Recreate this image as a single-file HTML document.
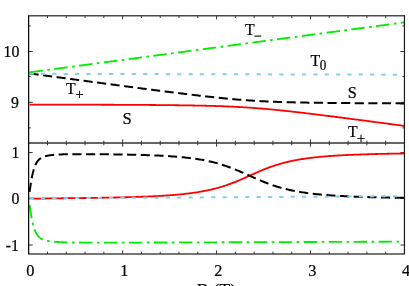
<!DOCTYPE html>
<html><head><meta charset="utf-8"><title>chart</title>
<style>
html,body{margin:0;padding:0;background:#fff;}
body{width:409px;height:286px;overflow:hidden;}
svg{display:block;}
text{font-family:"Liberation Serif",serif;fill:#000;stroke:#000;stroke-width:0.22px;}
</style></head><body>
<svg width="409" height="286" viewBox="0 0 409 286">
<rect x="0" y="0" width="409" height="286" fill="#fff"/>
<defs>
<clipPath id="ct"><rect x="28.7" y="15.7" width="375.75" height="127.3"/></clipPath>
<clipPath id="cb"><rect x="28.7" y="143.0" width="375.75" height="111.0"/></clipPath>
</defs>
<g stroke="#4a4a4a" stroke-width="1.4" fill="none">
<line x1="28.1" y1="15.7" x2="405.05" y2="15.7"/>
<line x1="28.7" y1="143.0" x2="404.45" y2="143.0" stroke="#666" stroke-width="2.0"/>
<line x1="28.1" y1="254.0" x2="405.05" y2="254.0"/>
</g>
<g stroke="#333" stroke-width="1" fill="none">
<line x1="47.49" y1="15.7" x2="47.49" y2="18.0"/>
<line x1="47.49" y1="140.7" x2="47.49" y2="145.3"/>
<line x1="47.49" y1="254.0" x2="47.49" y2="251.7"/>
<line x1="66.28" y1="15.7" x2="66.28" y2="18.0"/>
<line x1="66.28" y1="140.7" x2="66.28" y2="145.3"/>
<line x1="66.28" y1="254.0" x2="66.28" y2="251.7"/>
<line x1="85.06" y1="15.7" x2="85.06" y2="18.0"/>
<line x1="85.06" y1="140.7" x2="85.06" y2="145.3"/>
<line x1="85.06" y1="254.0" x2="85.06" y2="251.7"/>
<line x1="103.85" y1="15.7" x2="103.85" y2="18.0"/>
<line x1="103.85" y1="140.7" x2="103.85" y2="145.3"/>
<line x1="103.85" y1="254.0" x2="103.85" y2="251.7"/>
<line x1="122.64" y1="15.7" x2="122.64" y2="19.3"/>
<line x1="122.64" y1="139.4" x2="122.64" y2="146.6"/>
<line x1="122.64" y1="254.0" x2="122.64" y2="250.4"/>
<line x1="141.43" y1="15.7" x2="141.43" y2="18.0"/>
<line x1="141.43" y1="140.7" x2="141.43" y2="145.3"/>
<line x1="141.43" y1="254.0" x2="141.43" y2="251.7"/>
<line x1="160.21" y1="15.7" x2="160.21" y2="18.0"/>
<line x1="160.21" y1="140.7" x2="160.21" y2="145.3"/>
<line x1="160.21" y1="254.0" x2="160.21" y2="251.7"/>
<line x1="179.00" y1="15.7" x2="179.00" y2="18.0"/>
<line x1="179.00" y1="140.7" x2="179.00" y2="145.3"/>
<line x1="179.00" y1="254.0" x2="179.00" y2="251.7"/>
<line x1="197.79" y1="15.7" x2="197.79" y2="18.0"/>
<line x1="197.79" y1="140.7" x2="197.79" y2="145.3"/>
<line x1="197.79" y1="254.0" x2="197.79" y2="251.7"/>
<line x1="216.57" y1="15.7" x2="216.57" y2="19.3"/>
<line x1="216.57" y1="139.4" x2="216.57" y2="146.6"/>
<line x1="216.57" y1="254.0" x2="216.57" y2="250.4"/>
<line x1="235.36" y1="15.7" x2="235.36" y2="18.0"/>
<line x1="235.36" y1="140.7" x2="235.36" y2="145.3"/>
<line x1="235.36" y1="254.0" x2="235.36" y2="251.7"/>
<line x1="254.15" y1="15.7" x2="254.15" y2="18.0"/>
<line x1="254.15" y1="140.7" x2="254.15" y2="145.3"/>
<line x1="254.15" y1="254.0" x2="254.15" y2="251.7"/>
<line x1="272.94" y1="15.7" x2="272.94" y2="18.0"/>
<line x1="272.94" y1="140.7" x2="272.94" y2="145.3"/>
<line x1="272.94" y1="254.0" x2="272.94" y2="251.7"/>
<line x1="291.73" y1="15.7" x2="291.73" y2="18.0"/>
<line x1="291.73" y1="140.7" x2="291.73" y2="145.3"/>
<line x1="291.73" y1="254.0" x2="291.73" y2="251.7"/>
<line x1="310.51" y1="15.7" x2="310.51" y2="19.3"/>
<line x1="310.51" y1="139.4" x2="310.51" y2="146.6"/>
<line x1="310.51" y1="254.0" x2="310.51" y2="250.4"/>
<line x1="329.30" y1="15.7" x2="329.30" y2="18.0"/>
<line x1="329.30" y1="140.7" x2="329.30" y2="145.3"/>
<line x1="329.30" y1="254.0" x2="329.30" y2="251.7"/>
<line x1="348.09" y1="15.7" x2="348.09" y2="18.0"/>
<line x1="348.09" y1="140.7" x2="348.09" y2="145.3"/>
<line x1="348.09" y1="254.0" x2="348.09" y2="251.7"/>
<line x1="366.88" y1="15.7" x2="366.88" y2="18.0"/>
<line x1="366.88" y1="140.7" x2="366.88" y2="145.3"/>
<line x1="366.88" y1="254.0" x2="366.88" y2="251.7"/>
<line x1="385.66" y1="15.7" x2="385.66" y2="18.0"/>
<line x1="385.66" y1="140.7" x2="385.66" y2="145.3"/>
<line x1="385.66" y1="254.0" x2="385.66" y2="251.7"/>
<line x1="28.7" y1="25.90" x2="30.7" y2="25.90"/>
<line x1="404.45" y1="25.90" x2="402.45" y2="25.90"/>
<line x1="28.7" y1="51.50" x2="32.7" y2="51.50"/>
<line x1="404.45" y1="51.50" x2="400.45" y2="51.50"/>
<line x1="28.7" y1="76.60" x2="30.7" y2="76.60"/>
<line x1="404.45" y1="76.60" x2="402.45" y2="76.60"/>
<line x1="28.7" y1="102.30" x2="32.7" y2="102.30"/>
<line x1="404.45" y1="102.30" x2="400.45" y2="102.30"/>
<line x1="28.7" y1="127.90" x2="30.7" y2="127.90"/>
<line x1="404.45" y1="127.90" x2="402.45" y2="127.90"/>
<line x1="28.7" y1="152.60" x2="32.7" y2="152.60"/>
<line x1="404.45" y1="152.60" x2="400.45" y2="152.60"/>
<line x1="28.7" y1="198.50" x2="32.7" y2="198.50"/>
<line x1="404.45" y1="198.50" x2="400.45" y2="198.50"/>
<line x1="28.7" y1="245.00" x2="32.7" y2="245.00"/>
<line x1="404.45" y1="245.00" x2="400.45" y2="245.00"/>
</g>
<g fill="none" stroke-linejoin="round">
<g clip-path="url(#ct)">
<path d="M29.59,104.57 L29.86,104.57 L30.12,104.57 L30.38,104.57 L30.65,104.57 L30.91,104.57 L31.18,104.57 L31.44,104.57 L31.70,104.57 L31.97,104.57 L32.23,104.57 L32.50,104.57 L32.76,104.57 L33.02,104.57 L33.29,104.57 L33.55,104.57 L33.81,104.57 L34.08,104.57 L34.34,104.57 L34.61,104.57 L34.87,104.57 L35.13,104.57 L35.40,104.57 L35.66,104.57 L35.93,104.57 L36.19,104.57 L36.45,104.58 L36.72,104.58 L36.98,104.58 L37.25,104.58 L37.51,104.58 L37.77,104.58 L38.04,104.58 L38.30,104.58 L38.57,104.58 L38.83,104.58 L39.09,104.58 L39.36,104.58 L39.62,104.58 L39.88,104.58 L40.15,104.58 L40.41,104.58 L40.68,104.58 L40.94,104.58 L41.20,104.58 L41.47,104.58 L41.73,104.58 L42.00,104.58 L42.26,104.58 L42.52,104.59 L42.79,104.59 L43.05,104.59 L43.32,104.59 L43.58,104.59 L43.84,104.59 L44.11,104.59 L44.37,104.59 L44.63,104.59 L44.90,104.59 L45.16,104.59 L45.43,104.59 L45.69,104.59 L45.95,104.59 L46.22,104.59 L46.48,104.59 L46.75,104.59 L47.01,104.59 L47.27,104.59 L47.54,104.59 L47.80,104.59 L48.07,104.59 L48.33,104.60 L48.59,104.60 L48.86,104.60 L49.12,104.60 L49.39,104.60 L49.65,104.60 L49.91,104.60 L50.18,104.60 L50.44,104.60 L50.70,104.60 L50.97,104.60 L51.23,104.60 L51.50,104.60 L51.76,104.60 L52.02,104.60 L52.29,104.60 L52.55,104.60 L52.82,104.60 L53.08,104.60 L53.34,104.60 L53.61,104.60 L53.87,104.61 L54.14,104.61 L54.40,104.61 L54.66,104.61 L54.93,104.61 L55.19,104.61 L55.45,104.61 L55.72,104.61 L55.98,104.61 L56.25,104.61 L56.51,104.61 L56.77,104.61 L57.04,104.61 L57.30,104.61 L57.57,104.61 L57.83,104.61 L58.09,104.61 L58.36,104.61 L58.62,104.61 L58.89,104.62 L59.15,104.62 L59.41,104.62 L59.68,104.62 L59.94,104.62 L60.21,104.62 L60.47,104.62 L60.73,104.62 L61.00,104.62 L61.26,104.62 L61.52,104.62 L61.79,104.62 L62.05,104.62 L62.32,104.62 L62.58,104.62 L62.84,104.62 L63.11,104.62 L63.37,104.62 L63.64,104.63 L63.90,104.63 L64.16,104.63 L64.43,104.63 L64.69,104.63 L64.96,104.63 L65.22,104.63 L65.48,104.63 L65.75,104.63 L66.01,104.63 L66.28,104.63 L67.58,104.63 L68.89,104.64 L70.19,104.64 L71.50,104.64 L72.80,104.65 L74.11,104.65 L75.41,104.65 L76.72,104.66 L78.03,104.66 L79.33,104.66 L80.64,104.67 L81.94,104.67 L83.25,104.67 L84.55,104.68 L85.86,104.68 L87.17,104.68 L88.47,104.69 L89.78,104.69 L91.08,104.70 L92.39,104.70 L93.69,104.70 L95.00,104.71 L96.31,104.71 L97.61,104.72 L98.92,104.72 L100.22,104.72 L101.53,104.73 L102.83,104.73 L104.14,104.74 L105.45,104.74 L106.75,104.75 L108.06,104.75 L109.36,104.76 L110.67,104.76 L111.97,104.77 L113.28,104.77 L114.59,104.78 L115.89,104.79 L117.20,104.79 L118.50,104.80 L119.81,104.80 L121.11,104.81 L122.42,104.81 L123.73,104.82 L125.03,104.83 L126.34,104.83 L127.64,104.84 L128.95,104.85 L130.25,104.85 L131.56,104.86 L132.87,104.87 L134.17,104.88 L135.48,104.88 L136.78,104.89 L138.09,104.90 L139.39,104.91 L140.70,104.92 L142.01,104.92 L143.31,104.93 L144.62,104.94 L145.92,104.95 L147.23,104.96 L148.53,104.97 L149.84,104.98 L151.15,104.99 L152.45,105.00 L153.76,105.01 L155.06,105.02 L156.37,105.03 L157.67,105.04 L158.98,105.05 L160.29,105.06 L161.59,105.08 L162.90,105.09 L164.20,105.10 L165.51,105.11 L166.81,105.13 L168.12,105.14 L169.42,105.15 L170.73,105.17 L172.04,105.18 L173.34,105.20 L174.65,105.21 L175.95,105.23 L177.26,105.25 L178.56,105.26 L179.87,105.28 L181.18,105.30 L182.48,105.32 L183.79,105.33 L185.09,105.35 L186.40,105.37 L187.70,105.39 L189.01,105.42 L190.32,105.44 L191.62,105.46 L192.93,105.48 L194.23,105.51 L195.54,105.53 L196.84,105.56 L198.15,105.58 L199.46,105.61 L200.76,105.64 L202.07,105.66 L203.37,105.69 L204.68,105.72 L205.98,105.76 L207.29,105.79 L208.60,105.82 L209.90,105.86 L211.21,105.89 L212.51,105.93 L213.82,105.97 L215.12,106.01 L216.43,106.05 L217.74,106.09 L219.04,106.13 L220.35,106.18 L221.65,106.22 L222.96,106.27 L224.26,106.32 L225.57,106.37 L226.88,106.43 L228.18,106.48 L229.49,106.54 L230.79,106.59 L232.10,106.65 L233.40,106.72 L234.71,106.78 L236.02,106.85 L237.32,106.91 L238.63,106.98 L239.93,107.06 L241.24,107.13 L242.54,107.21 L243.85,107.29 L245.16,107.37 L246.46,107.45 L247.77,107.54 L249.07,107.62 L250.38,107.71 L251.68,107.80 L252.99,107.90 L254.30,108.00 L255.60,108.09 L256.91,108.20 L258.21,108.30 L259.52,108.40 L260.82,108.51 L262.13,108.62 L263.43,108.73 L264.74,108.85 L266.05,108.96 L267.35,109.08 L268.66,109.20 L269.96,109.32 L271.27,109.44 L272.57,109.57 L273.88,109.69 L275.19,109.82 L276.49,109.95 L277.80,110.08 L279.10,110.22 L280.41,110.35 L281.71,110.49 L283.02,110.62 L284.33,110.76 L285.63,110.90 L286.94,111.04 L288.24,111.19 L289.55,111.33 L290.85,111.47 L292.16,111.62 L293.47,111.77 L294.77,111.91 L296.08,112.06 L297.38,112.21 L298.69,112.36 L299.99,112.51 L301.30,112.67 L302.61,112.82 L303.91,112.97 L305.22,113.13 L306.52,113.28 L307.83,113.44 L309.13,113.60 L310.44,113.75 L311.75,113.91 L313.05,114.07 L314.36,114.23 L315.66,114.39 L316.97,114.55 L318.27,114.71 L319.58,114.87 L320.89,115.03 L322.19,115.20 L323.50,115.36 L324.80,115.52 L326.11,115.68 L327.41,115.85 L328.72,116.01 L330.03,116.18 L331.33,116.34 L332.64,116.51 L333.94,116.67 L335.25,116.84 L336.55,117.00 L337.86,117.17 L339.17,117.34 L340.47,117.51 L341.78,117.67 L343.08,117.84 L344.39,118.01 L345.69,118.18 L347.00,118.35 L348.31,118.51 L349.61,118.68 L350.92,118.85 L352.22,119.02 L353.53,119.19 L354.83,119.36 L356.14,119.53 L357.44,119.70 L358.75,119.87 L360.06,120.04 L361.36,120.21 L362.67,120.38 L363.97,120.56 L365.28,120.73 L366.58,120.90 L367.89,121.07 L369.20,121.24 L370.50,121.41 L371.81,121.58 L373.11,121.76 L374.42,121.93 L375.72,122.10 L377.03,122.27 L378.34,122.45 L379.64,122.62 L380.95,122.79 L382.25,122.97 L383.56,123.14 L384.86,123.31 L386.17,123.48 L387.48,123.66 L388.78,123.83 L390.09,124.01 L391.39,124.18 L392.70,124.35 L394.00,124.53 L395.31,124.70 L396.62,124.87 L397.92,125.05 L399.23,125.22 L400.53,125.40 L401.84,125.57 L403.14,125.75 L404.45,125.92" stroke="#ff0000" stroke-width="1.8"/>
<path d="M29.59,73.44 L29.86,73.47 L30.12,73.51 L30.38,73.55 L30.65,73.58 L30.91,73.62 L31.18,73.65 L31.44,73.69 L31.70,73.72 L31.97,73.76 L32.23,73.80 L32.50,73.83 L32.76,73.87 L33.02,73.90 L33.29,73.94 L33.55,73.97 L33.81,74.01 L34.08,74.05 L34.34,74.08 L34.61,74.12 L34.87,74.15 L35.13,74.19 L35.40,74.22 L35.66,74.26 L35.93,74.30 L36.19,74.33 L36.45,74.37 L36.72,74.40 L36.98,74.44 L37.25,74.47 L37.51,74.51 L37.77,74.55 L38.04,74.58 L38.30,74.62 L38.57,74.65 L38.83,74.69 L39.09,74.72 L39.36,74.76 L39.62,74.80 L39.88,74.83 L40.15,74.87 L40.41,74.90 L40.68,74.94 L40.94,74.97 L41.20,75.01 L41.47,75.05 L41.73,75.08 L42.00,75.12 L42.26,75.15 L42.52,75.19 L42.79,75.22 L43.05,75.26 L43.32,75.30 L43.58,75.33 L43.84,75.37 L44.11,75.40 L44.37,75.44 L44.63,75.47 L44.90,75.51 L45.16,75.55 L45.43,75.58 L45.69,75.62 L45.95,75.65 L46.22,75.69 L46.48,75.72 L46.75,75.76 L47.01,75.80 L47.27,75.83 L47.54,75.87 L47.80,75.90 L48.07,75.94 L48.33,75.97 L48.59,76.01 L48.86,76.04 L49.12,76.08 L49.39,76.12 L49.65,76.15 L49.91,76.19 L50.18,76.22 L50.44,76.26 L50.70,76.29 L50.97,76.33 L51.23,76.37 L51.50,76.40 L51.76,76.44 L52.02,76.47 L52.29,76.51 L52.55,76.54 L52.82,76.58 L53.08,76.61 L53.34,76.65 L53.61,76.69 L53.87,76.72 L54.14,76.76 L54.40,76.79 L54.66,76.83 L54.93,76.86 L55.19,76.90 L55.45,76.94 L55.72,76.97 L55.98,77.01 L56.25,77.04 L56.51,77.08 L56.77,77.11 L57.04,77.15 L57.30,77.18 L57.57,77.22 L57.83,77.26 L58.09,77.29 L58.36,77.33 L58.62,77.36 L58.89,77.40 L59.15,77.43 L59.41,77.47 L59.68,77.50 L59.94,77.54 L60.21,77.58 L60.47,77.61 L60.73,77.65 L61.00,77.68 L61.26,77.72 L61.52,77.75 L61.79,77.79 L62.05,77.83 L62.32,77.86 L62.58,77.90 L62.84,77.93 L63.11,77.97 L63.37,78.00 L63.64,78.04 L63.90,78.07 L64.16,78.11 L64.43,78.15 L64.69,78.18 L64.96,78.22 L65.22,78.25 L65.48,78.29 L65.75,78.32 L66.01,78.36 L66.28,78.39 L67.58,78.57 L68.89,78.75 L70.19,78.92 L71.50,79.10 L72.80,79.27 L74.11,79.45 L75.41,79.62 L76.72,79.80 L78.03,79.97 L79.33,80.15 L80.64,80.32 L81.94,80.50 L83.25,80.68 L84.55,80.85 L85.86,81.03 L87.17,81.20 L88.47,81.38 L89.78,81.55 L91.08,81.72 L92.39,81.90 L93.69,82.07 L95.00,82.25 L96.31,82.42 L97.61,82.60 L98.92,82.77 L100.22,82.95 L101.53,83.12 L102.83,83.29 L104.14,83.47 L105.45,83.64 L106.75,83.82 L108.06,83.99 L109.36,84.16 L110.67,84.34 L111.97,84.51 L113.28,84.68 L114.59,84.86 L115.89,85.03 L117.20,85.20 L118.50,85.38 L119.81,85.55 L121.11,85.72 L122.42,85.89 L123.73,86.07 L125.03,86.24 L126.34,86.41 L127.64,86.58 L128.95,86.76 L130.25,86.93 L131.56,87.10 L132.87,87.27 L134.17,87.44 L135.48,87.61 L136.78,87.78 L138.09,87.95 L139.39,88.13 L140.70,88.30 L142.01,88.47 L143.31,88.64 L144.62,88.81 L145.92,88.98 L147.23,89.15 L148.53,89.31 L149.84,89.48 L151.15,89.65 L152.45,89.82 L153.76,89.99 L155.06,90.16 L156.37,90.33 L157.67,90.49 L158.98,90.66 L160.29,90.83 L161.59,90.99 L162.90,91.16 L164.20,91.33 L165.51,91.49 L166.81,91.66 L168.12,91.82 L169.42,91.99 L170.73,92.15 L172.04,92.32 L173.34,92.48 L174.65,92.64 L175.95,92.81 L177.26,92.97 L178.56,93.13 L179.87,93.29 L181.18,93.45 L182.48,93.61 L183.79,93.77 L185.09,93.93 L186.40,94.09 L187.70,94.25 L189.01,94.41 L190.32,94.57 L191.62,94.72 L192.93,94.88 L194.23,95.03 L195.54,95.19 L196.84,95.34 L198.15,95.49 L199.46,95.64 L200.76,95.80 L202.07,95.95 L203.37,96.10 L204.68,96.24 L205.98,96.39 L207.29,96.54 L208.60,96.68 L209.90,96.83 L211.21,96.97 L212.51,97.11 L213.82,97.25 L215.12,97.39 L216.43,97.53 L217.74,97.67 L219.04,97.80 L220.35,97.94 L221.65,98.07 L222.96,98.20 L224.26,98.33 L225.57,98.46 L226.88,98.58 L228.18,98.71 L229.49,98.83 L230.79,98.95 L232.10,99.07 L233.40,99.18 L234.71,99.30 L236.02,99.41 L237.32,99.52 L238.63,99.63 L239.93,99.74 L241.24,99.84 L242.54,99.94 L243.85,100.04 L245.16,100.14 L246.46,100.24 L247.77,100.33 L249.07,100.42 L250.38,100.51 L251.68,100.60 L252.99,100.68 L254.30,100.76 L255.60,100.84 L256.91,100.92 L258.21,101.00 L259.52,101.07 L260.82,101.14 L262.13,101.21 L263.43,101.28 L264.74,101.34 L266.05,101.41 L267.35,101.47 L268.66,101.53 L269.96,101.58 L271.27,101.64 L272.57,101.69 L273.88,101.75 L275.19,101.80 L276.49,101.85 L277.80,101.89 L279.10,101.94 L280.41,101.98 L281.71,102.03 L283.02,102.07 L284.33,102.11 L285.63,102.15 L286.94,102.18 L288.24,102.22 L289.55,102.25 L290.85,102.29 L292.16,102.32 L293.47,102.35 L294.77,102.38 L296.08,102.41 L297.38,102.44 L298.69,102.47 L299.99,102.50 L301.30,102.53 L302.61,102.55 L303.91,102.58 L305.22,102.60 L306.52,102.62 L307.83,102.65 L309.13,102.67 L310.44,102.69 L311.75,102.71 L313.05,102.73 L314.36,102.75 L315.66,102.77 L316.97,102.79 L318.27,102.81 L319.58,102.82 L320.89,102.84 L322.19,102.86 L323.50,102.87 L324.80,102.89 L326.11,102.90 L327.41,102.92 L328.72,102.93 L330.03,102.95 L331.33,102.96 L332.64,102.97 L333.94,102.99 L335.25,103.00 L336.55,103.01 L337.86,103.03 L339.17,103.04 L340.47,103.05 L341.78,103.06 L343.08,103.07 L344.39,103.08 L345.69,103.09 L347.00,103.10 L348.31,103.11 L349.61,103.12 L350.92,103.13 L352.22,103.14 L353.53,103.15 L354.83,103.16 L356.14,103.17 L357.44,103.18 L358.75,103.18 L360.06,103.19 L361.36,103.20 L362.67,103.21 L363.97,103.22 L365.28,103.22 L366.58,103.23 L367.89,103.24 L369.20,103.24 L370.50,103.25 L371.81,103.26 L373.11,103.27 L374.42,103.27 L375.72,103.28 L377.03,103.28 L378.34,103.29 L379.64,103.30 L380.95,103.30 L382.25,103.31 L383.56,103.31 L384.86,103.32 L386.17,103.32 L387.48,103.33 L388.78,103.33 L390.09,103.34 L391.39,103.35 L392.70,103.35 L394.00,103.35 L395.31,103.36 L396.62,103.36 L397.92,103.37 L399.23,103.37 L400.53,103.38 L401.84,103.38 L403.14,103.39 L404.45,103.39" stroke="#000" stroke-width="2" stroke-dasharray="9.14 4.48"/>
<path d="M29.59,73.80 L29.86,73.80 L30.12,73.80 L30.38,73.80 L30.65,73.80 L30.91,73.80 L31.18,73.81 L31.44,73.81 L31.70,73.81 L31.97,73.81 L32.23,73.81 L32.50,73.81 L32.76,73.81 L33.02,73.81 L33.29,73.81 L33.55,73.81 L33.81,73.81 L34.08,73.81 L34.34,73.81 L34.61,73.81 L34.87,73.81 L35.13,73.81 L35.40,73.82 L35.66,73.82 L35.93,73.82 L36.19,73.82 L36.45,73.82 L36.72,73.82 L36.98,73.82 L37.25,73.82 L37.51,73.82 L37.77,73.82 L38.04,73.82 L38.30,73.82 L38.57,73.82 L38.83,73.82 L39.09,73.82 L39.36,73.82 L39.62,73.83 L39.88,73.83 L40.15,73.83 L40.41,73.83 L40.68,73.83 L40.94,73.83 L41.20,73.83 L41.47,73.83 L41.73,73.83 L42.00,73.83 L42.26,73.83 L42.52,73.83 L42.79,73.83 L43.05,73.83 L43.32,73.83 L43.58,73.83 L43.84,73.84 L44.11,73.84 L44.37,73.84 L44.63,73.84 L44.90,73.84 L45.16,73.84 L45.43,73.84 L45.69,73.84 L45.95,73.84 L46.22,73.84 L46.48,73.84 L46.75,73.84 L47.01,73.84 L47.27,73.84 L47.54,73.84 L47.80,73.85 L48.07,73.85 L48.33,73.85 L48.59,73.85 L48.86,73.85 L49.12,73.85 L49.39,73.85 L49.65,73.85 L49.91,73.85 L50.18,73.85 L50.44,73.85 L50.70,73.85 L50.97,73.85 L51.23,73.85 L51.50,73.85 L51.76,73.85 L52.02,73.86 L52.29,73.86 L52.55,73.86 L52.82,73.86 L53.08,73.86 L53.34,73.86 L53.61,73.86 L53.87,73.86 L54.14,73.86 L54.40,73.86 L54.66,73.86 L54.93,73.86 L55.19,73.86 L55.45,73.86 L55.72,73.86 L55.98,73.86 L56.25,73.87 L56.51,73.87 L56.77,73.87 L57.04,73.87 L57.30,73.87 L57.57,73.87 L57.83,73.87 L58.09,73.87 L58.36,73.87 L58.62,73.87 L58.89,73.87 L59.15,73.87 L59.41,73.87 L59.68,73.87 L59.94,73.87 L60.21,73.87 L60.47,73.88 L60.73,73.88 L61.00,73.88 L61.26,73.88 L61.52,73.88 L61.79,73.88 L62.05,73.88 L62.32,73.88 L62.58,73.88 L62.84,73.88 L63.11,73.88 L63.37,73.88 L63.64,73.88 L63.90,73.88 L64.16,73.88 L64.43,73.88 L64.69,73.89 L64.96,73.89 L65.22,73.89 L65.48,73.89 L65.75,73.89 L66.01,73.89 L66.28,73.89 L67.58,73.89 L68.89,73.90 L70.19,73.90 L71.50,73.90 L72.80,73.90 L74.11,73.91 L75.41,73.91 L76.72,73.91 L78.03,73.92 L79.33,73.92 L80.64,73.92 L81.94,73.93 L83.25,73.93 L84.55,73.93 L85.86,73.94 L87.17,73.94 L88.47,73.94 L89.78,73.95 L91.08,73.95 L92.39,73.95 L93.69,73.95 L95.00,73.96 L96.31,73.96 L97.61,73.96 L98.92,73.97 L100.22,73.97 L101.53,73.97 L102.83,73.98 L104.14,73.98 L105.45,73.98 L106.75,73.99 L108.06,73.99 L109.36,73.99 L110.67,74.00 L111.97,74.00 L113.28,74.00 L114.59,74.01 L115.89,74.01 L117.20,74.01 L118.50,74.01 L119.81,74.02 L121.11,74.02 L122.42,74.02 L123.73,74.03 L125.03,74.03 L126.34,74.03 L127.64,74.04 L128.95,74.04 L130.25,74.04 L131.56,74.05 L132.87,74.05 L134.17,74.05 L135.48,74.06 L136.78,74.06 L138.09,74.06 L139.39,74.06 L140.70,74.07 L142.01,74.07 L143.31,74.07 L144.62,74.08 L145.92,74.08 L147.23,74.08 L148.53,74.09 L149.84,74.09 L151.15,74.09 L152.45,74.10 L153.76,74.10 L155.06,74.10 L156.37,74.11 L157.67,74.11 L158.98,74.11 L160.29,74.11 L161.59,74.12 L162.90,74.12 L164.20,74.12 L165.51,74.13 L166.81,74.13 L168.12,74.13 L169.42,74.14 L170.73,74.14 L172.04,74.14 L173.34,74.15 L174.65,74.15 L175.95,74.15 L177.26,74.16 L178.56,74.16 L179.87,74.16 L181.18,74.16 L182.48,74.17 L183.79,74.17 L185.09,74.17 L186.40,74.18 L187.70,74.18 L189.01,74.18 L190.32,74.19 L191.62,74.19 L192.93,74.19 L194.23,74.20 L195.54,74.20 L196.84,74.20 L198.15,74.21 L199.46,74.21 L200.76,74.21 L202.07,74.21 L203.37,74.22 L204.68,74.22 L205.98,74.22 L207.29,74.23 L208.60,74.23 L209.90,74.23 L211.21,74.24 L212.51,74.24 L213.82,74.24 L215.12,74.25 L216.43,74.25 L217.74,74.25 L219.04,74.26 L220.35,74.26 L221.65,74.26 L222.96,74.26 L224.26,74.27 L225.57,74.27 L226.88,74.27 L228.18,74.28 L229.49,74.28 L230.79,74.28 L232.10,74.29 L233.40,74.29 L234.71,74.29 L236.02,74.30 L237.32,74.30 L238.63,74.30 L239.93,74.31 L241.24,74.31 L242.54,74.31 L243.85,74.31 L245.16,74.32 L246.46,74.32 L247.77,74.32 L249.07,74.33 L250.38,74.33 L251.68,74.33 L252.99,74.34 L254.30,74.34 L255.60,74.34 L256.91,74.35 L258.21,74.35 L259.52,74.35 L260.82,74.36 L262.13,74.36 L263.43,74.36 L264.74,74.36 L266.05,74.37 L267.35,74.37 L268.66,74.37 L269.96,74.38 L271.27,74.38 L272.57,74.38 L273.88,74.39 L275.19,74.39 L276.49,74.39 L277.80,74.40 L279.10,74.40 L280.41,74.40 L281.71,74.41 L283.02,74.41 L284.33,74.41 L285.63,74.41 L286.94,74.42 L288.24,74.42 L289.55,74.42 L290.85,74.43 L292.16,74.43 L293.47,74.43 L294.77,74.44 L296.08,74.44 L297.38,74.44 L298.69,74.45 L299.99,74.45 L301.30,74.45 L302.61,74.46 L303.91,74.46 L305.22,74.46 L306.52,74.46 L307.83,74.47 L309.13,74.47 L310.44,74.47 L311.75,74.48 L313.05,74.48 L314.36,74.48 L315.66,74.49 L316.97,74.49 L318.27,74.49 L319.58,74.50 L320.89,74.50 L322.19,74.50 L323.50,74.51 L324.80,74.51 L326.11,74.51 L327.41,74.51 L328.72,74.52 L330.03,74.52 L331.33,74.52 L332.64,74.53 L333.94,74.53 L335.25,74.53 L336.55,74.54 L337.86,74.54 L339.17,74.54 L340.47,74.55 L341.78,74.55 L343.08,74.55 L344.39,74.56 L345.69,74.56 L347.00,74.56 L348.31,74.56 L349.61,74.57 L350.92,74.57 L352.22,74.57 L353.53,74.58 L354.83,74.58 L356.14,74.58 L357.44,74.59 L358.75,74.59 L360.06,74.59 L361.36,74.60 L362.67,74.60 L363.97,74.60 L365.28,74.61 L366.58,74.61 L367.89,74.61 L369.20,74.61 L370.50,74.62 L371.81,74.62 L373.11,74.62 L374.42,74.63 L375.72,74.63 L377.03,74.63 L378.34,74.64 L379.64,74.64 L380.95,74.64 L382.25,74.65 L383.56,74.65 L384.86,74.65 L386.17,74.66 L387.48,74.66 L388.78,74.66 L390.09,74.66 L391.39,74.67 L392.70,74.67 L394.00,74.67 L395.31,74.68 L396.62,74.68 L397.92,74.68 L399.23,74.69 L400.53,74.69 L401.84,74.69 L403.14,74.70 L404.45,74.70" stroke="#87ceeb" stroke-width="2.0" stroke-dasharray="4.2 7.15"/>
<path d="M29.59,72.32 L29.86,72.29 L30.12,72.25 L30.38,72.22 L30.65,72.18 L30.91,72.15 L31.18,72.11 L31.44,72.07 L31.70,72.04 L31.97,72.00 L32.23,71.97 L32.50,71.93 L32.76,71.90 L33.02,71.86 L33.29,71.83 L33.55,71.79 L33.81,71.76 L34.08,71.72 L34.34,71.69 L34.61,71.65 L34.87,71.62 L35.13,71.58 L35.40,71.55 L35.66,71.51 L35.93,71.48 L36.19,71.44 L36.45,71.41 L36.72,71.37 L36.98,71.34 L37.25,71.30 L37.51,71.27 L37.77,71.23 L38.04,71.20 L38.30,71.16 L38.57,71.12 L38.83,71.09 L39.09,71.05 L39.36,71.02 L39.62,70.98 L39.88,70.95 L40.15,70.91 L40.41,70.88 L40.68,70.84 L40.94,70.81 L41.20,70.77 L41.47,70.74 L41.73,70.70 L42.00,70.67 L42.26,70.63 L42.52,70.60 L42.79,70.56 L43.05,70.53 L43.32,70.49 L43.58,70.46 L43.84,70.42 L44.11,70.39 L44.37,70.35 L44.63,70.32 L44.90,70.28 L45.16,70.25 L45.43,70.21 L45.69,70.18 L45.95,70.14 L46.22,70.10 L46.48,70.07 L46.75,70.03 L47.01,70.00 L47.27,69.96 L47.54,69.93 L47.80,69.89 L48.07,69.86 L48.33,69.82 L48.59,69.79 L48.86,69.75 L49.12,69.72 L49.39,69.68 L49.65,69.65 L49.91,69.61 L50.18,69.58 L50.44,69.54 L50.70,69.51 L50.97,69.47 L51.23,69.44 L51.50,69.40 L51.76,69.37 L52.02,69.33 L52.29,69.30 L52.55,69.26 L52.82,69.23 L53.08,69.19 L53.34,69.15 L53.61,69.12 L53.87,69.08 L54.14,69.05 L54.40,69.01 L54.66,68.98 L54.93,68.94 L55.19,68.91 L55.45,68.87 L55.72,68.84 L55.98,68.80 L56.25,68.77 L56.51,68.73 L56.77,68.70 L57.04,68.66 L57.30,68.63 L57.57,68.59 L57.83,68.56 L58.09,68.52 L58.36,68.49 L58.62,68.45 L58.89,68.42 L59.15,68.38 L59.41,68.35 L59.68,68.31 L59.94,68.28 L60.21,68.24 L60.47,68.21 L60.73,68.17 L61.00,68.13 L61.26,68.10 L61.52,68.06 L61.79,68.03 L62.05,67.99 L62.32,67.96 L62.58,67.92 L62.84,67.89 L63.11,67.85 L63.37,67.82 L63.64,67.78 L63.90,67.75 L64.16,67.71 L64.43,67.68 L64.69,67.64 L64.96,67.61 L65.22,67.57 L65.48,67.54 L65.75,67.50 L66.01,67.47 L66.28,67.43 L67.58,67.26 L68.89,67.08 L70.19,66.91 L71.50,66.74 L72.80,66.56 L74.11,66.39 L75.41,66.21 L76.72,66.04 L78.03,65.86 L79.33,65.69 L80.64,65.52 L81.94,65.34 L83.25,65.17 L84.55,64.99 L85.86,64.82 L87.17,64.65 L88.47,64.47 L89.78,64.30 L91.08,64.12 L92.39,63.95 L93.69,63.78 L95.00,63.60 L96.31,63.43 L97.61,63.25 L98.92,63.08 L100.22,62.91 L101.53,62.73 L102.83,62.56 L104.14,62.38 L105.45,62.21 L106.75,62.04 L108.06,61.86 L109.36,61.69 L110.67,61.51 L111.97,61.34 L113.28,61.17 L114.59,60.99 L115.89,60.82 L117.20,60.64 L118.50,60.47 L119.81,60.30 L121.11,60.12 L122.42,59.95 L123.73,59.77 L125.03,59.60 L126.34,59.42 L127.64,59.25 L128.95,59.08 L130.25,58.90 L131.56,58.73 L132.87,58.55 L134.17,58.38 L135.48,58.21 L136.78,58.03 L138.09,57.86 L139.39,57.68 L140.70,57.51 L142.01,57.34 L143.31,57.16 L144.62,56.99 L145.92,56.81 L147.23,56.64 L148.53,56.47 L149.84,56.29 L151.15,56.12 L152.45,55.94 L153.76,55.77 L155.06,55.60 L156.37,55.42 L157.67,55.25 L158.98,55.07 L160.29,54.90 L161.59,54.73 L162.90,54.55 L164.20,54.38 L165.51,54.20 L166.81,54.03 L168.12,53.86 L169.42,53.68 L170.73,53.51 L172.04,53.33 L173.34,53.16 L174.65,52.99 L175.95,52.81 L177.26,52.64 L178.56,52.46 L179.87,52.29 L181.18,52.11 L182.48,51.94 L183.79,51.77 L185.09,51.59 L186.40,51.42 L187.70,51.24 L189.01,51.07 L190.32,50.90 L191.62,50.72 L192.93,50.55 L194.23,50.37 L195.54,50.20 L196.84,50.03 L198.15,49.85 L199.46,49.68 L200.76,49.50 L202.07,49.33 L203.37,49.16 L204.68,48.98 L205.98,48.81 L207.29,48.63 L208.60,48.46 L209.90,48.29 L211.21,48.11 L212.51,47.94 L213.82,47.76 L215.12,47.59 L216.43,47.42 L217.74,47.24 L219.04,47.07 L220.35,46.89 L221.65,46.72 L222.96,46.55 L224.26,46.37 L225.57,46.20 L226.88,46.02 L228.18,45.85 L229.49,45.68 L230.79,45.50 L232.10,45.33 L233.40,45.15 L234.71,44.98 L236.02,44.80 L237.32,44.63 L238.63,44.46 L239.93,44.28 L241.24,44.11 L242.54,43.93 L243.85,43.76 L245.16,43.59 L246.46,43.41 L247.77,43.24 L249.07,43.06 L250.38,42.89 L251.68,42.72 L252.99,42.54 L254.30,42.37 L255.60,42.19 L256.91,42.02 L258.21,41.85 L259.52,41.67 L260.82,41.50 L262.13,41.32 L263.43,41.15 L264.74,40.98 L266.05,40.80 L267.35,40.63 L268.66,40.45 L269.96,40.28 L271.27,40.11 L272.57,39.93 L273.88,39.76 L275.19,39.58 L276.49,39.41 L277.80,39.24 L279.10,39.06 L280.41,38.89 L281.71,38.71 L283.02,38.54 L284.33,38.37 L285.63,38.19 L286.94,38.02 L288.24,37.84 L289.55,37.67 L290.85,37.49 L292.16,37.32 L293.47,37.15 L294.77,36.97 L296.08,36.80 L297.38,36.62 L298.69,36.45 L299.99,36.28 L301.30,36.10 L302.61,35.93 L303.91,35.75 L305.22,35.58 L306.52,35.41 L307.83,35.23 L309.13,35.06 L310.44,34.88 L311.75,34.71 L313.05,34.54 L314.36,34.36 L315.66,34.19 L316.97,34.01 L318.27,33.84 L319.58,33.67 L320.89,33.49 L322.19,33.32 L323.50,33.14 L324.80,32.97 L326.11,32.80 L327.41,32.62 L328.72,32.45 L330.03,32.27 L331.33,32.10 L332.64,31.93 L333.94,31.75 L335.25,31.58 L336.55,31.40 L337.86,31.23 L339.17,31.05 L340.47,30.88 L341.78,30.71 L343.08,30.53 L344.39,30.36 L345.69,30.18 L347.00,30.01 L348.31,29.84 L349.61,29.66 L350.92,29.49 L352.22,29.31 L353.53,29.14 L354.83,28.97 L356.14,28.79 L357.44,28.62 L358.75,28.44 L360.06,28.27 L361.36,28.10 L362.67,27.92 L363.97,27.75 L365.28,27.57 L366.58,27.40 L367.89,27.23 L369.20,27.05 L370.50,26.88 L371.81,26.70 L373.11,26.53 L374.42,26.36 L375.72,26.18 L377.03,26.01 L378.34,25.83 L379.64,25.66 L380.95,25.49 L382.25,25.31 L383.56,25.14 L384.86,24.96 L386.17,24.79 L387.48,24.62 L388.78,24.44 L390.09,24.27 L391.39,24.09 L392.70,23.92 L394.00,23.74 L395.31,23.57 L396.62,23.40 L397.92,23.22 L399.23,23.05 L400.53,22.87 L401.84,22.70 L403.14,22.53 L404.45,22.35" stroke="#00ee00" stroke-width="1.85" stroke-dasharray="13.45 4.42 2.68 4.42"/>
</g>
<g clip-path="url(#cb)">
<path d="M29.59,198.40 L29.86,198.40 L30.12,198.40 L30.38,198.40 L30.65,198.41 L30.91,198.41 L31.18,198.41 L31.44,198.42 L31.70,198.42 L31.97,198.43 L32.23,198.44 L32.50,198.45 L32.76,198.46 L33.02,198.47 L33.29,198.48 L33.55,198.49 L33.81,198.50 L34.08,198.51 L34.34,198.52 L34.61,198.53 L34.87,198.53 L35.13,198.54 L35.40,198.55 L35.66,198.55 L35.93,198.56 L36.19,198.56 L36.45,198.57 L36.72,198.57 L36.98,198.57 L37.25,198.57 L37.51,198.58 L37.77,198.58 L38.04,198.58 L38.30,198.58 L38.57,198.57 L38.83,198.57 L39.09,198.57 L39.36,198.57 L39.62,198.57 L39.88,198.56 L40.15,198.56 L40.41,198.56 L40.68,198.55 L40.94,198.55 L41.20,198.55 L41.47,198.54 L41.73,198.54 L42.00,198.54 L42.26,198.53 L42.52,198.53 L42.79,198.52 L43.05,198.52 L43.32,198.52 L43.58,198.51 L43.84,198.51 L44.11,198.50 L44.37,198.50 L44.63,198.50 L44.90,198.49 L45.16,198.49 L45.43,198.48 L45.69,198.48 L45.95,198.48 L46.22,198.47 L46.48,198.47 L46.75,198.46 L47.01,198.46 L47.27,198.46 L47.54,198.45 L47.80,198.45 L48.07,198.44 L48.33,198.44 L48.59,198.44 L48.86,198.43 L49.12,198.43 L49.39,198.42 L49.65,198.42 L49.91,198.42 L50.18,198.41 L50.44,198.41 L50.70,198.41 L50.97,198.40 L51.23,198.40 L51.50,198.40 L51.76,198.39 L52.02,198.39 L52.29,198.38 L52.55,198.38 L52.82,198.38 L53.08,198.37 L53.34,198.37 L53.61,198.37 L53.87,198.36 L54.14,198.36 L54.40,198.36 L54.66,198.35 L54.93,198.35 L55.19,198.35 L55.45,198.34 L55.72,198.34 L55.98,198.34 L56.25,198.33 L56.51,198.33 L56.77,198.33 L57.04,198.33 L57.30,198.32 L57.57,198.32 L57.83,198.32 L58.09,198.31 L58.36,198.31 L58.62,198.31 L58.89,198.30 L59.15,198.30 L59.41,198.30 L59.68,198.29 L59.94,198.29 L60.21,198.29 L60.47,198.29 L60.73,198.28 L61.00,198.28 L61.26,198.28 L61.52,198.27 L61.79,198.27 L62.05,198.27 L62.32,198.26 L62.58,198.26 L62.84,198.26 L63.11,198.26 L63.37,198.25 L63.64,198.25 L63.90,198.25 L64.16,198.24 L64.43,198.24 L64.69,198.24 L64.96,198.23 L65.22,198.23 L65.48,198.23 L65.75,198.23 L66.01,198.22 L66.28,198.22 L67.58,198.20 L68.89,198.19 L70.19,198.18 L71.50,198.16 L72.80,198.15 L74.11,198.13 L75.41,198.12 L76.72,198.10 L78.03,198.08 L79.33,198.07 L80.64,198.05 L81.94,198.04 L83.25,198.02 L84.55,198.00 L85.86,197.99 L87.17,197.97 L88.47,197.95 L89.78,197.93 L91.08,197.91 L92.39,197.90 L93.69,197.88 L95.00,197.86 L96.31,197.84 L97.61,197.82 L98.92,197.80 L100.22,197.78 L101.53,197.75 L102.83,197.73 L104.14,197.71 L105.45,197.69 L106.75,197.66 L108.06,197.64 L109.36,197.61 L110.67,197.59 L111.97,197.56 L113.28,197.54 L114.59,197.51 L115.89,197.48 L117.20,197.45 L118.50,197.42 L119.81,197.39 L121.11,197.36 L122.42,197.33 L123.73,197.30 L125.03,197.26 L126.34,197.23 L127.64,197.19 L128.95,197.16 L130.25,197.12 L131.56,197.08 L132.87,197.04 L134.17,197.00 L135.48,196.96 L136.78,196.92 L138.09,196.88 L139.39,196.83 L140.70,196.78 L142.01,196.74 L143.31,196.69 L144.62,196.64 L145.92,196.58 L147.23,196.53 L148.53,196.47 L149.84,196.42 L151.15,196.36 L152.45,196.30 L153.76,196.23 L155.06,196.17 L156.37,196.10 L157.67,196.03 L158.98,195.96 L160.29,195.89 L161.59,195.81 L162.90,195.73 L164.20,195.65 L165.51,195.57 L166.81,195.48 L168.12,195.39 L169.42,195.30 L170.73,195.20 L172.04,195.10 L173.34,195.00 L174.65,194.89 L175.95,194.78 L177.26,194.66 L178.56,194.54 L179.87,194.42 L181.18,194.29 L182.48,194.16 L183.79,194.02 L185.09,193.88 L186.40,193.73 L187.70,193.58 L189.01,193.42 L190.32,193.25 L191.62,193.08 L192.93,192.90 L194.23,192.72 L195.54,192.53 L196.84,192.33 L198.15,192.12 L199.46,191.90 L200.76,191.68 L202.07,191.45 L203.37,191.21 L204.68,190.96 L205.98,190.70 L207.29,190.43 L208.60,190.15 L209.90,189.86 L211.21,189.56 L212.51,189.25 L213.82,188.93 L215.12,188.60 L216.43,188.25 L217.74,187.89 L219.04,187.52 L220.35,187.14 L221.65,186.75 L222.96,186.34 L224.26,185.92 L225.57,185.49 L226.88,185.05 L228.18,184.59 L229.49,184.12 L230.79,183.64 L232.10,183.15 L233.40,182.64 L234.71,182.13 L236.02,181.60 L237.32,181.07 L238.63,180.52 L239.93,179.97 L241.24,179.41 L242.54,178.85 L243.85,178.27 L245.16,177.70 L246.46,177.11 L247.77,176.53 L249.07,175.95 L250.38,175.36 L251.68,174.77 L252.99,174.19 L254.30,173.61 L255.60,173.03 L256.91,172.46 L258.21,171.89 L259.52,171.33 L260.82,170.78 L262.13,170.24 L263.43,169.70 L264.74,169.18 L266.05,168.66 L267.35,168.16 L268.66,167.66 L269.96,167.18 L271.27,166.71 L272.57,166.26 L273.88,165.81 L275.19,165.38 L276.49,164.96 L277.80,164.56 L279.10,164.16 L280.41,163.78 L281.71,163.41 L283.02,163.06 L284.33,162.71 L285.63,162.38 L286.94,162.06 L288.24,161.75 L289.55,161.45 L290.85,161.16 L292.16,160.88 L293.47,160.61 L294.77,160.35 L296.08,160.10 L297.38,159.86 L298.69,159.63 L299.99,159.41 L301.30,159.19 L302.61,158.99 L303.91,158.79 L305.22,158.60 L306.52,158.41 L307.83,158.23 L309.13,158.06 L310.44,157.90 L311.75,157.74 L313.05,157.58 L314.36,157.44 L315.66,157.29 L316.97,157.16 L318.27,157.02 L319.58,156.90 L320.89,156.77 L322.19,156.65 L323.50,156.54 L324.80,156.43 L326.11,156.32 L327.41,156.22 L328.72,156.12 L330.03,156.02 L331.33,155.93 L332.64,155.84 L333.94,155.75 L335.25,155.67 L336.55,155.59 L337.86,155.51 L339.17,155.43 L340.47,155.36 L341.78,155.29 L343.08,155.22 L344.39,155.15 L345.69,155.09 L347.00,155.02 L348.31,154.96 L349.61,154.90 L350.92,154.85 L352.22,154.79 L353.53,154.74 L354.83,154.68 L356.14,154.63 L357.44,154.58 L358.75,154.54 L360.06,154.49 L361.36,154.44 L362.67,154.40 L363.97,154.36 L365.28,154.32 L366.58,154.28 L367.89,154.24 L369.20,154.20 L370.50,154.16 L371.81,154.12 L373.11,154.09 L374.42,154.05 L375.72,154.02 L377.03,153.99 L378.34,153.96 L379.64,153.93 L380.95,153.90 L382.25,153.87 L383.56,153.84 L384.86,153.81 L386.17,153.78 L387.48,153.76 L388.78,153.73 L390.09,153.71 L391.39,153.68 L392.70,153.66 L394.00,153.63 L395.31,153.61 L396.62,153.59 L397.92,153.57 L399.23,153.55 L400.53,153.52 L401.84,153.50 L403.14,153.48 L404.45,153.46" stroke="#ff0000" stroke-width="1.8"/>
<path d="M29.59,191.81 L29.86,189.92 L30.12,188.08 L30.38,186.29 L30.65,184.56 L30.91,182.90 L31.18,181.30 L31.44,179.78 L31.70,178.34 L31.97,176.96 L32.23,175.66 L32.50,174.44 L32.76,173.28 L33.02,172.19 L33.29,171.17 L33.55,170.21 L33.81,169.32 L34.08,168.47 L34.34,167.69 L34.61,166.95 L34.87,166.26 L35.13,165.61 L35.40,165.00 L35.66,164.44 L35.93,163.90 L36.19,163.41 L36.45,162.94 L36.72,162.50 L36.98,162.09 L37.25,161.70 L37.51,161.34 L37.77,161.00 L38.04,160.68 L38.30,160.38 L38.57,160.09 L38.83,159.82 L39.09,159.57 L39.36,159.33 L39.62,159.11 L39.88,158.89 L40.15,158.69 L40.41,158.50 L40.68,158.32 L40.94,158.14 L41.20,157.98 L41.47,157.83 L41.73,157.68 L42.00,157.54 L42.26,157.41 L42.52,157.28 L42.79,157.16 L43.05,157.04 L43.32,156.93 L43.58,156.83 L43.84,156.73 L44.11,156.63 L44.37,156.54 L44.63,156.46 L44.90,156.37 L45.16,156.29 L45.43,156.22 L45.69,156.14 L45.95,156.07 L46.22,156.01 L46.48,155.94 L46.75,155.88 L47.01,155.82 L47.27,155.76 L47.54,155.71 L47.80,155.66 L48.07,155.60 L48.33,155.56 L48.59,155.51 L48.86,155.46 L49.12,155.42 L49.39,155.38 L49.65,155.34 L49.91,155.30 L50.18,155.26 L50.44,155.22 L50.70,155.19 L50.97,155.15 L51.23,155.12 L51.50,155.09 L51.76,155.06 L52.02,155.03 L52.29,155.00 L52.55,154.97 L52.82,154.95 L53.08,154.92 L53.34,154.90 L53.61,154.87 L53.87,154.85 L54.14,154.83 L54.40,154.80 L54.66,154.78 L54.93,154.76 L55.19,154.74 L55.45,154.72 L55.72,154.70 L55.98,154.69 L56.25,154.67 L56.51,154.65 L56.77,154.63 L57.04,154.62 L57.30,154.60 L57.57,154.59 L57.83,154.57 L58.09,154.56 L58.36,154.54 L58.62,154.53 L58.89,154.52 L59.15,154.51 L59.41,154.49 L59.68,154.48 L59.94,154.47 L60.21,154.46 L60.47,154.45 L60.73,154.44 L61.00,154.43 L61.26,154.42 L61.52,154.41 L61.79,154.40 L62.05,154.39 L62.32,154.38 L62.58,154.37 L62.84,154.36 L63.11,154.35 L63.37,154.34 L63.64,154.34 L63.90,154.33 L64.16,154.32 L64.43,154.31 L64.69,154.31 L64.96,154.30 L65.22,154.29 L65.48,154.29 L65.75,154.28 L66.01,154.28 L66.28,154.27 L67.58,154.24 L68.89,154.22 L70.19,154.20 L71.50,154.18 L72.80,154.17 L74.11,154.16 L75.41,154.15 L76.72,154.14 L78.03,154.13 L79.33,154.13 L80.64,154.13 L81.94,154.12 L83.25,154.12 L84.55,154.12 L85.86,154.13 L87.17,154.13 L88.47,154.13 L89.78,154.14 L91.08,154.14 L92.39,154.15 L93.69,154.16 L95.00,154.16 L96.31,154.17 L97.61,154.18 L98.92,154.19 L100.22,154.21 L101.53,154.22 L102.83,154.23 L104.14,154.24 L105.45,154.26 L106.75,154.27 L108.06,154.29 L109.36,154.30 L110.67,154.32 L111.97,154.34 L113.28,154.36 L114.59,154.38 L115.89,154.40 L117.20,154.42 L118.50,154.44 L119.81,154.46 L121.11,154.48 L122.42,154.51 L123.73,154.53 L125.03,154.55 L126.34,154.58 L127.64,154.61 L128.95,154.64 L130.25,154.66 L131.56,154.69 L132.87,154.72 L134.17,154.76 L135.48,154.79 L136.78,154.82 L138.09,154.86 L139.39,154.89 L140.70,154.93 L142.01,154.97 L143.31,155.01 L144.62,155.05 L145.92,155.10 L147.23,155.14 L148.53,155.19 L149.84,155.23 L151.15,155.28 L152.45,155.33 L153.76,155.39 L155.06,155.44 L156.37,155.50 L157.67,155.56 L158.98,155.62 L160.29,155.68 L161.59,155.75 L162.90,155.82 L164.20,155.89 L165.51,155.96 L166.81,156.04 L168.12,156.12 L169.42,156.20 L170.73,156.29 L172.04,156.38 L173.34,156.47 L174.65,156.57 L175.95,156.67 L177.26,156.77 L178.56,156.88 L179.87,156.99 L181.18,157.11 L182.48,157.24 L183.79,157.36 L185.09,157.50 L186.40,157.64 L187.70,157.78 L189.01,157.93 L190.32,158.09 L191.62,158.26 L192.93,158.43 L194.23,158.61 L195.54,158.80 L196.84,158.99 L198.15,159.19 L199.46,159.40 L200.76,159.62 L202.07,159.85 L203.37,160.09 L204.68,160.34 L205.98,160.60 L207.29,160.87 L208.60,161.15 L209.90,161.44 L211.21,161.74 L212.51,162.06 L213.82,162.38 L215.12,162.72 L216.43,163.07 L217.74,163.43 L219.04,163.81 L220.35,164.20 L221.65,164.60 L222.96,165.01 L224.26,165.44 L225.57,165.88 L226.88,166.33 L228.18,166.80 L229.49,167.27 L230.79,167.76 L232.10,168.26 L233.40,168.77 L234.71,169.29 L236.02,169.83 L237.32,170.37 L238.63,170.92 L239.93,171.47 L241.24,172.04 L242.54,172.61 L243.85,173.18 L245.16,173.76 L246.46,174.34 L247.77,174.93 L249.07,175.52 L250.38,176.10 L251.68,176.69 L252.99,177.27 L254.30,177.85 L255.60,178.43 L256.91,179.00 L258.21,179.56 L259.52,180.12 L260.82,180.67 L262.13,181.21 L263.43,181.75 L264.74,182.27 L266.05,182.78 L267.35,183.28 L268.66,183.77 L269.96,184.25 L271.27,184.71 L272.57,185.17 L273.88,185.61 L275.19,186.04 L276.49,186.45 L277.80,186.86 L279.10,187.25 L280.41,187.63 L281.71,187.99 L283.02,188.35 L284.33,188.69 L285.63,189.02 L286.94,189.34 L288.24,189.64 L289.55,189.94 L290.85,190.23 L292.16,190.50 L293.47,190.77 L294.77,191.02 L296.08,191.27 L297.38,191.51 L298.69,191.74 L299.99,191.96 L301.30,192.17 L302.61,192.37 L303.91,192.57 L305.22,192.76 L306.52,192.94 L307.83,193.12 L309.13,193.29 L310.44,193.45 L311.75,193.61 L313.05,193.76 L314.36,193.91 L315.66,194.05 L316.97,194.19 L318.27,194.32 L319.58,194.45 L320.89,194.57 L322.19,194.69 L323.50,194.80 L324.80,194.91 L326.11,195.02 L327.41,195.12 L328.72,195.22 L330.03,195.32 L331.33,195.41 L332.64,195.50 L333.94,195.59 L335.25,195.67 L336.55,195.75 L337.86,195.83 L339.17,195.91 L340.47,195.98 L341.78,196.05 L343.08,196.12 L344.39,196.19 L345.69,196.25 L347.00,196.32 L348.31,196.38 L349.61,196.44 L350.92,196.49 L352.22,196.55 L353.53,196.60 L354.83,196.66 L356.14,196.71 L357.44,196.76 L358.75,196.80 L360.06,196.85 L361.36,196.90 L362.67,196.94 L363.97,196.98 L365.28,197.02 L366.58,197.06 L367.89,197.10 L369.20,197.14 L370.50,197.18 L371.81,197.22 L373.11,197.25 L374.42,197.29 L375.72,197.32 L377.03,197.35 L378.34,197.38 L379.64,197.41 L380.95,197.44 L382.25,197.47 L383.56,197.50 L384.86,197.53 L386.17,197.56 L387.48,197.59 L388.78,197.61 L390.09,197.64 L391.39,197.66 L392.70,197.69 L394.00,197.71 L395.31,197.73 L396.62,197.76 L397.92,197.78 L399.23,197.80 L400.53,197.82 L401.84,197.84 L403.14,197.86 L404.45,197.88" stroke="#000" stroke-width="2" stroke-dasharray="9.2 4.48"/>
<path d="M29.59,204.95 L29.86,206.82 L30.12,208.66 L30.38,210.43 L30.65,212.15 L30.91,213.80 L31.18,215.39 L31.44,216.90 L31.70,218.34 L31.97,219.70 L32.23,220.99 L32.50,222.21 L32.76,223.36 L33.02,224.44 L33.29,225.45 L33.55,226.41 L33.81,227.30 L34.08,228.14 L34.34,228.92 L34.61,229.66 L34.87,230.34 L35.13,230.99 L35.40,231.59 L35.66,232.15 L35.93,232.68 L36.19,233.18 L36.45,233.64 L36.72,234.08 L36.98,234.49 L37.25,234.87 L37.51,235.23 L37.77,235.57 L38.04,235.89 L38.30,236.19 L38.57,236.47 L38.83,236.74 L39.09,236.99 L39.36,237.23 L39.62,237.46 L39.88,237.67 L40.15,237.87 L40.41,238.06 L40.68,238.24 L40.94,238.41 L41.20,238.58 L41.47,238.73 L41.73,238.88 L42.00,239.02 L42.26,239.15 L42.52,239.28 L42.79,239.40 L43.05,239.51 L43.32,239.62 L43.58,239.72 L43.84,239.82 L44.11,239.92 L44.37,240.01 L44.63,240.10 L44.90,240.18 L45.16,240.26 L45.43,240.34 L45.69,240.41 L45.95,240.48 L46.22,240.55 L46.48,240.61 L46.75,240.67 L47.01,240.73 L47.27,240.79 L47.54,240.85 L47.80,240.90 L48.07,240.95 L48.33,241.00 L48.59,241.05 L48.86,241.09 L49.12,241.14 L49.39,241.18 L49.65,241.22 L49.91,241.26 L50.18,241.30 L50.44,241.33 L50.70,241.37 L50.97,241.40 L51.23,241.44 L51.50,241.47 L51.76,241.50 L52.02,241.53 L52.29,241.56 L52.55,241.59 L52.82,241.61 L53.08,241.64 L53.34,241.67 L53.61,241.69 L53.87,241.72 L54.14,241.74 L54.40,241.76 L54.66,241.78 L54.93,241.80 L55.19,241.82 L55.45,241.84 L55.72,241.86 L55.98,241.88 L56.25,241.90 L56.51,241.92 L56.77,241.94 L57.04,241.95 L57.30,241.97 L57.57,241.99 L57.83,242.00 L58.09,242.02 L58.36,242.03 L58.62,242.04 L58.89,242.06 L59.15,242.07 L59.41,242.08 L59.68,242.10 L59.94,242.11 L60.21,242.12 L60.47,242.13 L60.73,242.15 L61.00,242.16 L61.26,242.17 L61.52,242.18 L61.79,242.19 L62.05,242.20 L62.32,242.21 L62.58,242.22 L62.84,242.23 L63.11,242.24 L63.37,242.25 L63.64,242.25 L63.90,242.26 L64.16,242.27 L64.43,242.28 L64.69,242.29 L64.96,242.29 L65.22,242.30 L65.48,242.31 L65.75,242.32 L66.01,242.32 L66.28,242.33 L67.58,242.36 L68.89,242.39 L70.19,242.41 L71.50,242.44 L72.80,242.46 L74.11,242.48 L75.41,242.49 L76.72,242.51 L78.03,242.52 L79.33,242.53 L80.64,242.54 L81.94,242.55 L83.25,242.56 L84.55,242.57 L85.86,242.57 L87.17,242.58 L88.47,242.58 L89.78,242.59 L91.08,242.59 L92.39,242.60 L93.69,242.60 L95.00,242.60 L96.31,242.60 L97.61,242.61 L98.92,242.61 L100.22,242.61 L101.53,242.61 L102.83,242.61 L104.14,242.61 L105.45,242.61 L106.75,242.61 L108.06,242.61 L109.36,242.61 L110.67,242.61 L111.97,242.61 L113.28,242.60 L114.59,242.60 L115.89,242.60 L117.20,242.60 L118.50,242.60 L119.81,242.60 L121.11,242.59 L122.42,242.59 L123.73,242.59 L125.03,242.59 L126.34,242.58 L127.64,242.58 L128.95,242.58 L130.25,242.58 L131.56,242.57 L132.87,242.57 L134.17,242.57 L135.48,242.56 L136.78,242.56 L138.09,242.56 L139.39,242.56 L140.70,242.55 L142.01,242.55 L143.31,242.55 L144.62,242.54 L145.92,242.54 L147.23,242.53 L148.53,242.53 L149.84,242.53 L151.15,242.52 L152.45,242.52 L153.76,242.52 L155.06,242.51 L156.37,242.51 L157.67,242.51 L158.98,242.50 L160.29,242.50 L161.59,242.49 L162.90,242.49 L164.20,242.49 L165.51,242.48 L166.81,242.48 L168.12,242.47 L169.42,242.47 L170.73,242.47 L172.04,242.46 L173.34,242.46 L174.65,242.45 L175.95,242.45 L177.26,242.44 L178.56,242.44 L179.87,242.44 L181.18,242.43 L182.48,242.43 L183.79,242.42 L185.09,242.42 L186.40,242.42 L187.70,242.41 L189.01,242.41 L190.32,242.40 L191.62,242.40 L192.93,242.39 L194.23,242.39 L195.54,242.38 L196.84,242.38 L198.15,242.38 L199.46,242.37 L200.76,242.37 L202.07,242.36 L203.37,242.36 L204.68,242.35 L205.98,242.35 L207.29,242.35 L208.60,242.34 L209.90,242.34 L211.21,242.33 L212.51,242.33 L213.82,242.32 L215.12,242.32 L216.43,242.31 L217.74,242.31 L219.04,242.30 L220.35,242.30 L221.65,242.30 L222.96,242.29 L224.26,242.29 L225.57,242.28 L226.88,242.28 L228.18,242.27 L229.49,242.27 L230.79,242.26 L232.10,242.26 L233.40,242.25 L234.71,242.25 L236.02,242.25 L237.32,242.24 L238.63,242.24 L239.93,242.23 L241.24,242.23 L242.54,242.22 L243.85,242.22 L245.16,242.21 L246.46,242.21 L247.77,242.20 L249.07,242.20 L250.38,242.20 L251.68,242.19 L252.99,242.19 L254.30,242.18 L255.60,242.18 L256.91,242.17 L258.21,242.17 L259.52,242.16 L260.82,242.16 L262.13,242.15 L263.43,242.15 L264.74,242.14 L266.05,242.14 L267.35,242.13 L268.66,242.13 L269.96,242.13 L271.27,242.12 L272.57,242.12 L273.88,242.11 L275.19,242.11 L276.49,242.10 L277.80,242.10 L279.10,242.09 L280.41,242.09 L281.71,242.08 L283.02,242.08 L284.33,242.07 L285.63,242.07 L286.94,242.06 L288.24,242.06 L289.55,242.06 L290.85,242.05 L292.16,242.05 L293.47,242.04 L294.77,242.04 L296.08,242.03 L297.38,242.03 L298.69,242.02 L299.99,242.02 L301.30,242.01 L302.61,242.01 L303.91,242.00 L305.22,242.00 L306.52,241.99 L307.83,241.99 L309.13,241.98 L310.44,241.98 L311.75,241.98 L313.05,241.97 L314.36,241.97 L315.66,241.96 L316.97,241.96 L318.27,241.95 L319.58,241.95 L320.89,241.94 L322.19,241.94 L323.50,241.93 L324.80,241.93 L326.11,241.92 L327.41,241.92 L328.72,241.91 L330.03,241.91 L331.33,241.90 L332.64,241.90 L333.94,241.89 L335.25,241.89 L336.55,241.89 L337.86,241.88 L339.17,241.88 L340.47,241.87 L341.78,241.87 L343.08,241.86 L344.39,241.86 L345.69,241.85 L347.00,241.85 L348.31,241.84 L349.61,241.84 L350.92,241.83 L352.22,241.83 L353.53,241.82 L354.83,241.82 L356.14,241.81 L357.44,241.81 L358.75,241.80 L360.06,241.80 L361.36,241.79 L362.67,241.79 L363.97,241.79 L365.28,241.78 L366.58,241.78 L367.89,241.77 L369.20,241.77 L370.50,241.76 L371.81,241.76 L373.11,241.75 L374.42,241.75 L375.72,241.74 L377.03,241.74 L378.34,241.73 L379.64,241.73 L380.95,241.72 L382.25,241.72 L383.56,241.71 L384.86,241.71 L386.17,241.70 L387.48,241.70 L388.78,241.69 L390.09,241.69 L391.39,241.69 L392.70,241.68 L394.00,241.68 L395.31,241.67 L396.62,241.67 L397.92,241.66 L399.23,241.66 L400.53,241.65 L401.84,241.65 L403.14,241.64 L404.45,241.64" stroke="#00ee00" stroke-width="1.85" stroke-dasharray="13.45 4.42 2.68 4.42"/>
<path d="M29.59,198.39 L29.86,198.39 L30.12,198.39 L30.38,198.39 L30.65,198.39 L30.91,198.39 L31.18,198.39 L31.44,198.38 L31.70,198.38 L31.97,198.38 L32.23,198.38 L32.50,198.38 L32.76,198.38 L33.02,198.37 L33.29,198.37 L33.55,198.37 L33.81,198.37 L34.08,198.37 L34.34,198.37 L34.61,198.37 L34.87,198.36 L35.13,198.36 L35.40,198.36 L35.66,198.36 L35.93,198.36 L36.19,198.36 L36.45,198.35 L36.72,198.35 L36.98,198.35 L37.25,198.35 L37.51,198.35 L37.77,198.35 L38.04,198.34 L38.30,198.34 L38.57,198.34 L38.83,198.34 L39.09,198.34 L39.36,198.34 L39.62,198.34 L39.88,198.33 L40.15,198.33 L40.41,198.33 L40.68,198.33 L40.94,198.33 L41.20,198.33 L41.47,198.32 L41.73,198.32 L42.00,198.32 L42.26,198.32 L42.52,198.32 L42.79,198.32 L43.05,198.32 L43.32,198.31 L43.58,198.31 L43.84,198.31 L44.11,198.31 L44.37,198.31 L44.63,198.31 L44.90,198.30 L45.16,198.30 L45.43,198.30 L45.69,198.30 L45.95,198.30 L46.22,198.30 L46.48,198.30 L46.75,198.29 L47.01,198.29 L47.27,198.29 L47.54,198.29 L47.80,198.29 L48.07,198.29 L48.33,198.28 L48.59,198.28 L48.86,198.28 L49.12,198.28 L49.39,198.28 L49.65,198.28 L49.91,198.27 L50.18,198.27 L50.44,198.27 L50.70,198.27 L50.97,198.27 L51.23,198.27 L51.50,198.27 L51.76,198.26 L52.02,198.26 L52.29,198.26 L52.55,198.26 L52.82,198.26 L53.08,198.26 L53.34,198.25 L53.61,198.25 L53.87,198.25 L54.14,198.25 L54.40,198.25 L54.66,198.25 L54.93,198.25 L55.19,198.24 L55.45,198.24 L55.72,198.24 L55.98,198.24 L56.25,198.24 L56.51,198.24 L56.77,198.23 L57.04,198.23 L57.30,198.23 L57.57,198.23 L57.83,198.23 L58.09,198.23 L58.36,198.22 L58.62,198.22 L58.89,198.22 L59.15,198.22 L59.41,198.22 L59.68,198.22 L59.94,198.22 L60.21,198.21 L60.47,198.21 L60.73,198.21 L61.00,198.21 L61.26,198.21 L61.52,198.21 L61.79,198.20 L62.05,198.20 L62.32,198.20 L62.58,198.20 L62.84,198.20 L63.11,198.20 L63.37,198.20 L63.64,198.19 L63.90,198.19 L64.16,198.19 L64.43,198.19 L64.69,198.19 L64.96,198.19 L65.22,198.18 L65.48,198.18 L65.75,198.18 L66.01,198.18 L66.28,198.18 L67.58,198.17 L68.89,198.16 L70.19,198.16 L71.50,198.15 L72.80,198.14 L74.11,198.13 L75.41,198.12 L76.72,198.12 L78.03,198.11 L79.33,198.10 L80.64,198.09 L81.94,198.09 L83.25,198.08 L84.55,198.07 L85.86,198.06 L87.17,198.05 L88.47,198.05 L89.78,198.04 L91.08,198.03 L92.39,198.02 L93.69,198.02 L95.00,198.01 L96.31,198.00 L97.61,197.99 L98.92,197.99 L100.22,197.98 L101.53,197.97 L102.83,197.96 L104.14,197.95 L105.45,197.95 L106.75,197.94 L108.06,197.93 L109.36,197.92 L110.67,197.92 L111.97,197.91 L113.28,197.90 L114.59,197.89 L115.89,197.89 L117.20,197.88 L118.50,197.87 L119.81,197.86 L121.11,197.85 L122.42,197.85 L123.73,197.84 L125.03,197.83 L126.34,197.82 L127.64,197.82 L128.95,197.81 L130.25,197.80 L131.56,197.79 L132.87,197.79 L134.17,197.78 L135.48,197.77 L136.78,197.76 L138.09,197.75 L139.39,197.75 L140.70,197.74 L142.01,197.73 L143.31,197.72 L144.62,197.72 L145.92,197.71 L147.23,197.70 L148.53,197.69 L149.84,197.69 L151.15,197.68 L152.45,197.67 L153.76,197.66 L155.06,197.65 L156.37,197.65 L157.67,197.64 L158.98,197.63 L160.29,197.62 L161.59,197.62 L162.90,197.61 L164.20,197.60 L165.51,197.59 L166.81,197.58 L168.12,197.58 L169.42,197.57 L170.73,197.56 L172.04,197.55 L173.34,197.55 L174.65,197.54 L175.95,197.53 L177.26,197.52 L178.56,197.52 L179.87,197.51 L181.18,197.50 L182.48,197.49 L183.79,197.48 L185.09,197.48 L186.40,197.47 L187.70,197.46 L189.01,197.45 L190.32,197.45 L191.62,197.44 L192.93,197.43 L194.23,197.42 L195.54,197.42 L196.84,197.41 L198.15,197.40 L199.46,197.39 L200.76,197.38 L202.07,197.38 L203.37,197.37 L204.68,197.36 L205.98,197.35 L207.29,197.35 L208.60,197.34 L209.90,197.33 L211.21,197.32 L212.51,197.32 L213.82,197.31 L215.12,197.30 L216.43,197.29 L217.74,197.28 L219.04,197.28 L220.35,197.27 L221.65,197.26 L222.96,197.25 L224.26,197.25 L225.57,197.24 L226.88,197.23 L228.18,197.22 L229.49,197.21 L230.79,197.21 L232.10,197.20 L233.40,197.19 L234.71,197.18 L236.02,197.18 L237.32,197.17 L238.63,197.16 L239.93,197.15 L241.24,197.15 L242.54,197.14 L243.85,197.13 L245.16,197.12 L246.46,197.11 L247.77,197.11 L249.07,197.10 L250.38,197.09 L251.68,197.08 L252.99,197.08 L254.30,197.07 L255.60,197.06 L256.91,197.05 L258.21,197.05 L259.52,197.04 L260.82,197.03 L262.13,197.02 L263.43,197.01 L264.74,197.01 L266.05,197.00 L267.35,196.99 L268.66,196.98 L269.96,196.98 L271.27,196.97 L272.57,196.96 L273.88,196.95 L275.19,196.95 L276.49,196.94 L277.80,196.93 L279.10,196.92 L280.41,196.91 L281.71,196.91 L283.02,196.90 L284.33,196.89 L285.63,196.88 L286.94,196.88 L288.24,196.87 L289.55,196.86 L290.85,196.85 L292.16,196.85 L293.47,196.84 L294.77,196.83 L296.08,196.82 L297.38,196.81 L298.69,196.81 L299.99,196.80 L301.30,196.79 L302.61,196.78 L303.91,196.78 L305.22,196.77 L306.52,196.76 L307.83,196.75 L309.13,196.74 L310.44,196.74 L311.75,196.73 L313.05,196.72 L314.36,196.71 L315.66,196.71 L316.97,196.70 L318.27,196.69 L319.58,196.68 L320.89,196.68 L322.19,196.67 L323.50,196.66 L324.80,196.65 L326.11,196.64 L327.41,196.64 L328.72,196.63 L330.03,196.62 L331.33,196.61 L332.64,196.61 L333.94,196.60 L335.25,196.59 L336.55,196.58 L337.86,196.58 L339.17,196.57 L340.47,196.56 L341.78,196.55 L343.08,196.54 L344.39,196.54 L345.69,196.53 L347.00,196.52 L348.31,196.51 L349.61,196.51 L350.92,196.50 L352.22,196.49 L353.53,196.48 L354.83,196.48 L356.14,196.47 L357.44,196.46 L358.75,196.45 L360.06,196.44 L361.36,196.44 L362.67,196.43 L363.97,196.42 L365.28,196.41 L366.58,196.41 L367.89,196.40 L369.20,196.39 L370.50,196.38 L371.81,196.38 L373.11,196.37 L374.42,196.36 L375.72,196.35 L377.03,196.34 L378.34,196.34 L379.64,196.33 L380.95,196.32 L382.25,196.31 L383.56,196.31 L384.86,196.30 L386.17,196.29 L387.48,196.28 L388.78,196.27 L390.09,196.27 L391.39,196.26 L392.70,196.25 L394.00,196.24 L395.31,196.24 L396.62,196.23 L397.92,196.22 L399.23,196.21 L400.53,196.21 L401.84,196.20 L403.14,196.19 L404.45,196.18" stroke="#87ceeb" stroke-width="2.0" stroke-dasharray="4.2 7.15"/>
</g>
</g>
<g stroke="#000" stroke-width="1.2" fill="none">
<line x1="28.65" y1="15.7" x2="28.65" y2="254.0"/>
<line x1="404.45" y1="15.7" x2="404.45" y2="254.0" stroke="#1c1c1c"/>
</g>
<g font-size="15.8" style="filter:grayscale(1)">
<text x="19.3" y="56.7" text-anchor="end">10</text>
<text x="18.9" y="107.8" text-anchor="end">9</text>
<text x="19.3" y="157.6" text-anchor="end">1</text>
<text x="19.3" y="203.8" text-anchor="end">0</text>
<text x="18.9" y="250.9" text-anchor="end">-1</text>
<text x="30.4" y="275.7" font-size="16.3" text-anchor="middle">0</text>
<text x="124.3" y="275.7" font-size="16.3" text-anchor="middle">1</text>
<text x="218.3" y="275.7" font-size="16.3" text-anchor="middle">2</text>
<text x="312.2" y="275.7" font-size="16.3" text-anchor="middle">3</text>
<text x="406.1" y="275.7" font-size="16.3" text-anchor="middle">4</text>
<text x="216.4" y="296.7" font-size="18" text-anchor="middle">B (T)</text>
<text x="245.1" y="34.8">T</text>
<rect x="254.3" y="35.55" width="6.9" height="1.1" fill="#000"/>
<text x="310.4" y="65.6">T</text>
<text transform="translate(319.8,70.1) scale(0.97,1)" font-size="13.55">0</text>
<text transform="translate(347.75,97.8) scale(1.03,1.07)">S</text>
<text x="348.0" y="136.8">T</text>
<text x="356.7" y="142.65" font-size="15">+</text>
<text x="66.1" y="94.3">T</text>
<text x="75.3" y="99.35" font-size="15">+</text>
<text transform="translate(122.4,123.5) scale(1.05,1.07)">S</text>
</g>
</svg>
</body></html>
